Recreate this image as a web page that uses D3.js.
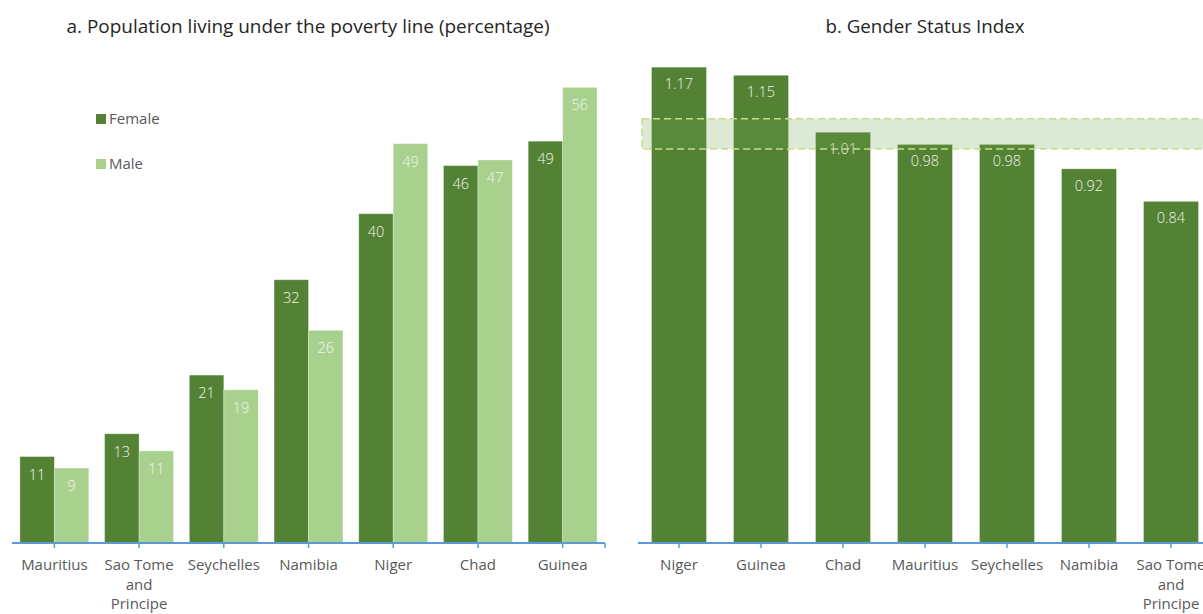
<!DOCTYPE html>
<html><head><meta charset="utf-8">
<script src="https://cdn.jsdelivr.net/npm/d3@7"></script>
<style>
body{margin:0;background:#fff;}
svg{display:block;font-family:"Open Sans",sans-serif;}
</style></head>
<body><svg id="c" width="1203" height="614"></svg>
<script>
// Panel a data
const povertyCountries = ["Mauritius", "Sao Tome and Principe", "Seychelles", "Namibia", "Niger", "Chad", "Guinea"];
const femaleValues = [10.6, 13.4, 20.6, 32.3, 40.4, 46.3, 49.3];
const maleValues = [9.2, 11.3, 18.8, 26.1, 49.0, 47.0, 55.9];
const seriesNames = ["Female", "Male"];
// Panel b data
const gsiCountries = ["Niger", "Guinea", "Chad", "Mauritius", "Seychelles", "Namibia", "Sao Tome and Principe"];
const gsiValues = [1.17, 1.15, 1.01, 0.98, 0.98, 0.92, 0.84];
const parityBand = [0.969, 1.043];

const titleA = "a. Population living under the poverty line (percentage)";
const titleB = "b. Gender Status Index";

const darkGreen = "#548235", lightGreen = "#a9d18e", axisBlue = "#5b9bd5", textGrey = "#595959";
const svg = d3.select("#c");

function drawAxis(g, x, y0, x0, x1, endTick) {
  g.append("line").attr("x1", x0).attr("x2", x1).attr("y1", y0).attr("y2", y0)
    .attr("stroke", axisBlue).attr("stroke-width", 2);
  x.domain().forEach(c => {
    const cx = x(c) + x.bandwidth() / 2;
    g.append("line").attr("x1", cx).attr("x2", cx).attr("y1", y0).attr("y2", y0 + 5)
      .attr("stroke", axisBlue).attr("stroke-width", 1.5);
    const words = c === "Sao Tome and Principe" ? ["Sao Tome", "and", "Principe"] : [c];
    const t = g.append("text").attr("x", cx).attr("y", y0 + 27).attr("text-anchor", "middle")
      .attr("fill", textGrey).attr("font-size", 15);
    words.forEach((w, i) => t.append("tspan").attr("x", cx).attr("dy", i === 0 ? 0 : 19.5).text(w));
  });
  if (endTick) g.append("line").attr("x1", x1).attr("x2", x1).attr("y1", y0).attr("y2", y0 + 5)
      .attr("stroke", axisBlue).attr("stroke-width", 1.5);
}

// ---------- Panel a ----------
const axisY = 543;
const xa = d3.scaleBand().domain(povertyCountries).range([12, 605]).padding(0);
const xaInner = d3.scaleBand().domain(seriesNames).range([0, xa.bandwidth()]).paddingInner(0).paddingOuter(0.23);
const ya = d3.scaleLinear().domain([0, 60]).range([axisY, 54]);
const gA = svg.append("g");
const seriesData = [femaleValues, maleValues];
const seriesColors = [darkGreen, lightGreen];
seriesNames.forEach((s, si) => {
  povertyCountries.forEach((c, i) => {
    const v = seriesData[si][i];
    const bx = xa(c) + xaInner(s);
    gA.append("rect").attr("x", bx).attr("y", ya(v)).attr("width", xaInner.bandwidth())
      .attr("height", axisY - ya(v)).attr("fill", seriesColors[si])
      .attr("stroke", "#ffffff").attr("stroke-opacity", 0.35).attr("stroke-width", 0.8);
    gA.append("text").attr("x", bx + xaInner.bandwidth() / 2).attr("y", ya(v) + 23)
      .attr("text-anchor", "middle").attr("font-size", 14.5).attr("font-weight", 300)
      .attr("fill", "#f2f5ee").text(d3.format(".0f")(v));
  });
});
drawAxis(gA, xa, axisY, 12, 605, true);
gA.append("text").attr("x", 308).attr("y", 33).attr("text-anchor", "middle")
  .attr("font-size", 18).attr("fill", "#262626")
  .attr("textLength", 483).attr("lengthAdjust", "spacingAndGlyphs").text(titleA);
// legend
seriesNames.forEach((s, i) => {
  const ly = 119 + i * 45;
  gA.append("rect").attr("x", 96).attr("y", ly - 5).attr("width", 10).attr("height", 10).attr("fill", seriesColors[i]);
  gA.append("text").attr("x", 109).attr("y", ly + 5).attr("font-size", 15).attr("fill", textGrey).text(s);
});

// ---------- Panel b ----------
const xb = d3.scaleBand().domain(gsiCountries).range([638, 1212]).paddingInner(0.33).paddingOuter(0.165);
const xbFull = d3.scaleBand().domain(gsiCountries).range([638, 1212]).padding(0);
const yb = d3.scaleLinear().domain([0, 1.2]).range([axisY, axisY - 1.2 * 406.7]);
const gB = svg.append("g");
gsiCountries.forEach((c, i) => {
  const v = gsiValues[i];
  gB.append("rect").attr("x", xb(c)).attr("y", yb(v)).attr("width", xb.bandwidth())
    .attr("height", axisY - yb(v)).attr("fill", darkGreen)
    .attr("stroke", "#ffffff").attr("stroke-opacity", 0.35).attr("stroke-width", 0.8);
  gB.append("text").attr("x", xb(c) + xb.bandwidth() / 2).attr("y", yb(v) + 22)
    .attr("text-anchor", "middle").attr("font-size", 14.5).attr("font-weight", 300)
    .attr("fill", "#eef3ea").text(d3.format(".2f")(v));
});
gB.append("rect").attr("x", 642).attr("y", yb(parityBand[1])).attr("width", 600)
  .attr("height", yb(parityBand[0]) - yb(parityBand[1]))
  .attr("fill", "rgba(109,163,74,0.24)").attr("stroke", "#c8dd86").attr("stroke-width", 1.5)
  .attr("stroke-dasharray", "7,4");
drawAxis(gB, xbFull, axisY, 638, 1212, false);
gB.append("text").attr("x", 925).attr("y", 33).attr("text-anchor", "middle")
  .attr("font-size", 18).attr("fill", "#262626")
  .attr("textLength", 199).attr("lengthAdjust", "spacingAndGlyphs").text(titleB);
</script></body></html>
